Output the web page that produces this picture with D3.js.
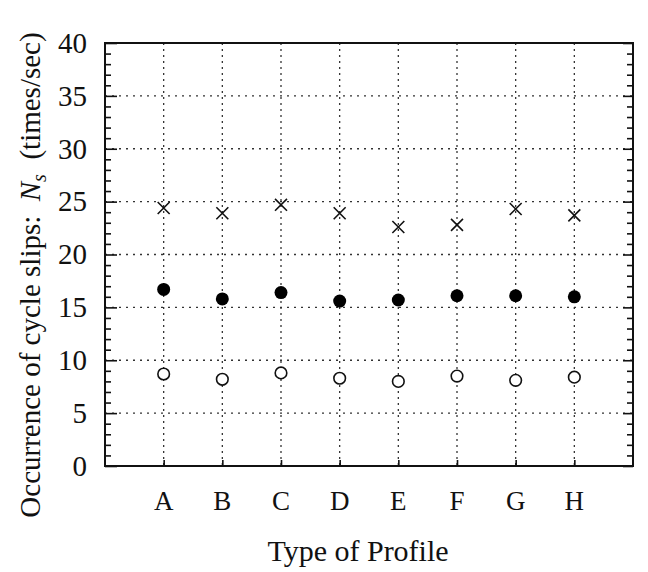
<!DOCTYPE html>
<html lang="en">
<head>
    <meta charset="UTF-8">
    <title>Occurrence of cycle slips</title>
    <script src="https://d3js.org/d3.v7.min.js"></script>
    <style>
        body { margin: 0; background: #fff; }
    </style>
</head>
<body>
    <div id="chart"></div>

    <script>
        // Data
        const profiles = ["A", "B", "C", "D", "E", "F", "G", "H"];
        const crossVals  = [24.4, 23.9, 24.7, 23.9, 22.6, 22.8, 24.3, 23.7];
        const filledVals = [16.7, 15.8, 16.4, 15.6, 15.7, 16.1, 16.1, 16.0];
        const openVals   = [8.7, 8.2, 8.8, 8.3, 8.0, 8.5, 8.1, 8.4];
        const yTicks = [0, 5, 10, 15, 20, 25, 30, 35, 40];

        const serif = "'Liberation Serif', 'Times New Roman', 'DejaVu Serif', serif";
        const W = 648, H = 572;
        const margin = { top: 43, right: 15, bottom: 106, left: 105 };
        const width = W - margin.left - margin.right,
              height = H - margin.top - margin.bottom;

        const svg = d3.select("#chart")
            .append("svg")
            .attr("width", W)
            .attr("height", H)
            .attr("font-family", serif);

        const g = svg.append("g")
            .attr("transform", `translate(${margin.left},${margin.top})`);

        const x = d3.scaleLinear().domain([0, profiles.length + 1]).range([0, width]);
        const px = (d, i) => x(i + 1);
        const y = d3.scaleLinear().domain([0, 40]).range([height, 0]);

        // dotted grid
        g.append("g").selectAll("line")
            .data(yTicks.filter(t => t > 0 && t < 40))
            .join("line")
            .attr("x1", 0).attr("x2", width)
            .attr("y1", d => y(d)).attr("y2", d => y(d))
            .attr("stroke", "#333").attr("stroke-width", 1.3)
            .attr("stroke-dasharray", "2,5");

        g.append("g").selectAll("line")
            .data(profiles)
            .join("line")
            .attr("x1", px).attr("x2", px)
            .attr("y1", 0).attr("y2", height)
            .attr("stroke", "#333").attr("stroke-width", 1.3)
            .attr("stroke-dasharray", "2,4");

        // left and right axes with minor ticks pointing inward
        const minor = d3.range(0, 41, 1);
        const yl = g.append("g")
            .call(d3.axisLeft(y).tickValues(minor).tickSize(-6).tickFormat(""));
        yl.selectAll(".tick line").filter(d => d % 5 === 0).attr("x2", 12);
        const yr = g.append("g")
            .attr("transform", `translate(${width},0)`)
            .call(d3.axisRight(y).tickValues(minor).tickSize(-6).tickFormat(""));
        yr.selectAll(".tick line").filter(d => d % 5 === 0).attr("x2", -10);
        [yl, yr].forEach(a => {
            a.select(".domain").remove();
            a.selectAll(".tick line").attr("stroke", "#111").attr("stroke-width", 1.6);
        });

        // tick labels on y
        g.append("g").selectAll("text")
            .data(yTicks)
            .join("text")
            .attr("x", -18)
            .attr("y", d => y(d))
            .attr("dy", "0.34em")
            .attr("text-anchor", "end")
            .attr("font-family", serif)
            .attr("font-size", 29)
            .attr("fill", "#111")
            .text(d => d);

        // bottom ticks at categories
        const xb = g.append("g")
            .attr("transform", `translate(0,${height})`)
            .call(d3.axisBottom(x).tickValues(d3.range(1, profiles.length + 1)).tickSize(-6).tickFormat(""));
        xb.select(".domain").remove();
        xb.selectAll(".tick line").attr("stroke", "#111").attr("stroke-width", 1.6);

        // frame
        g.append("rect")
            .attr("width", width).attr("height", height)
            .attr("fill", "none").attr("stroke", "#111").attr("stroke-width", 2);

        // category labels
        g.append("g").selectAll("text")
            .data(profiles)
            .join("text")
            .attr("x", px)
            .attr("y", height + 44)
            .attr("text-anchor", "middle")
            .attr("font-family", serif)
            .attr("font-size", 27)
            .attr("fill", "#111")
            .text(d => d);

        // markers
        const cross = d3.symbol().type(d3.symbolX).size(95);
        g.append("g").selectAll("path")
            .data(crossVals)
            .join("path")
            .attr("d", cross)
            .attr("transform", (d, i) => `translate(${x(i + 1)},${y(d)})`)
            .attr("fill", "none").attr("stroke", "#111").attr("stroke-width", 1.6);

        g.append("g").selectAll("circle")
            .data(filledVals)
            .join("circle")
            .attr("cx", (d, i) => x(i + 1))
            .attr("cy", d => y(d))
            .attr("r", 6.5)
            .attr("fill", "#000");

        g.append("g").selectAll("circle")
            .data(openVals)
            .join("circle")
            .attr("cx", (d, i) => x(i + 1))
            .attr("cy", d => y(d))
            .attr("r", 5.8)
            .attr("fill", "#fff").attr("stroke", "#111").attr("stroke-width", 1.6);

        // axis titles
        svg.append("text")
            .attr("x", 358)
            .attr("y", 561)
            .attr("text-anchor", "middle")
            .attr("font-family", serif)
            .attr("font-size", 30)
            .attr("fill", "#111")
            .text("Type of Profile");

        const yt = svg.append("text")
            .attr("transform", "translate(40,275) rotate(-90)")
            .attr("text-anchor", "middle")
            .attr("font-family", serif)
            .attr("font-size", 29)
            .attr("fill", "#111");
        yt.append("tspan").text("Occurrence of cycle slips:\u2002");
        yt.append("tspan").attr("font-style", "italic").text("N");
        yt.append("tspan").attr("font-style", "italic").attr("font-size", 20).attr("dy", 6).text("s");
        yt.append("tspan").attr("dy", -6).text("\u2002(times/sec)");
    </script>
</body>
</html>
